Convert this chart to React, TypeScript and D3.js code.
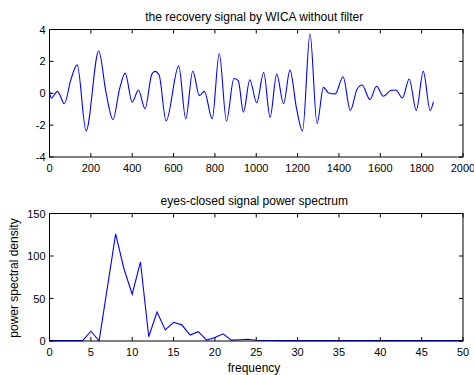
import { useRef, useEffect } from "react";
import * as d3 from "d3";

// top panel: recovered signal, key samples
const signalT = [
  0, 8, 39, 72, 102, 134, 177, 238, 274, 307, 339, 366, 400, 430, 462, 495, 511,
  530, 564, 625, 659, 693, 725, 749, 787, 821, 856, 892, 913, 938, 969, 1002,
  1036, 1067, 1099, 1132, 1163, 1195, 1224, 1260, 1294, 1325, 1350, 1382, 1420,
  1455, 1488, 1512, 1550, 1582, 1615, 1650, 1675, 1707, 1740, 1774, 1808, 1841,
  1857,
];
const signalV = [
  0.2, -0.3, 0.12, -0.66, 0.79, 1.78, -2.36, 2.65, 0.0, -1.64, 0.27, 1.26, -0.56,
  0.2, -0.97, 1.2, 1.37, 1.15, -1.74, 1.72, -1.6, 1.4, -0.15, 0.12, -1.6, 2.49,
  -1.74, 0.93, 0.79, -1.18, 0.85, -0.6, 1.3, -1.5, 1.2, -0.66, 1.45, -0.97,
  -2.36, 3.73, -1.9, 0.37, 0.02, -0.04, 1.04, -1.08, 0.27, 0.52, -0.39, 0.44,
  -0.19, 0.17, 0.2, -0.29, 0.89, -1.08, 1.37, -1.08, -0.52,
];

// bottom panel: power spectrum, one value per Hz (0..50)
const psd = [
  0.5, 0.5, 0.5, 0.5, 0.5, 11.5, 0.3, 63, 126, 85, 55, 93, 5, 34, 13, 22, 19, 7,
  11, 1, 4, 8.5, 1, 1.5, 2, 0.8, 0.6, 0.5, 0.5, 0.5, 0.5, 0.5, 0.5, 0.5, 0.5,
  0.5, 0.5, 0.5, 0.5, 0.5, 0.5, 0.5, 0.5, 0.5, 0.5, 0.5, 0.5, 0.5, 0.5, 0.5, 0.5,
];

const topXTicks = [0, 200, 400, 600, 800, 1000, 1200, 1400, 1600, 1800, 2000];
const topYTicks = [-4, -2, 0, 2, 4];
const botXTicks = [0, 5, 10, 15, 20, 25, 30, 35, 40, 45, 50];
const botYTicks = [0, 50, 100, 150];

const W = 474;
const H = 375;
const FONT = "'Liberation Sans', Arial, sans-serif";

export default function App() {
  const svgRef = useRef<SVGSVGElement>(null);

  useEffect(() => {
    if (!svgRef.current) return;
    const svg = d3.select(svgRef.current);
    svg.selectAll("*").remove();

    const left = 49.5;
    const right = 463;

    function panel(
      top: number,
      bottom: number,
      xDom: [number, number],
      yDom: [number, number],
      xTicks: number[],
      yTicks: number[],
      title: string,
      pts: [number, number][],
      curve: d3.CurveFactory
    ) {
      const x = d3.scaleLinear().domain(xDom).range([left, right]);
      const y = d3.scaleLinear().domain(yDom).range([bottom, top]);
      const g = svg.append("g");

      const line = d3
        .line<[number, number]>()
        .x((d) => x(d[0]))
        .y((d) => y(d[1]))
        .curve(curve);
      g.append("path")
        .datum(pts)
        .attr("fill", "none")
        .attr("stroke", "#0000ff")
        .attr("stroke-width", 1.1)
        .attr("d", line);

      // box
      g.append("rect")
        .attr("x", left)
        .attr("y", top)
        .attr("width", right - left)
        .attr("height", bottom - top)
        .attr("fill", "none")
        .attr("stroke", "#000")
        .attr("stroke-width", 1);

      const tl = 4;
      xTicks.forEach((t) => {
        const px = x(t);
        g.append("line").attr("x1", px).attr("x2", px).attr("y1", bottom).attr("y2", bottom - tl).attr("stroke", "#000");
        g.append("line").attr("x1", px).attr("x2", px).attr("y1", top).attr("y2", top + tl).attr("stroke", "#000");
        g.append("text")
          .attr("x", px)
          .attr("y", bottom + 15)
          .attr("text-anchor", "middle")
          .attr("font-size", "11px")
          .attr("font-family", FONT)
          .text(String(t));
      });
      yTicks.forEach((t) => {
        const py = y(t);
        g.append("line").attr("x1", left).attr("x2", left + tl).attr("y1", py).attr("y2", py).attr("stroke", "#000");
        g.append("line").attr("x1", right).attr("x2", right - tl).attr("y1", py).attr("y2", py).attr("stroke", "#000");
        g.append("text")
          .attr("x", left - 4)
          .attr("y", py + 4)
          .attr("text-anchor", "end")
          .attr("font-size", "11px")
          .attr("font-family", FONT)
          .text(String(t));
      });

      g.append("text")
        .attr("x", (left + right) / 2 - 2)
        .attr("y", top - 8.5)
        .attr("text-anchor", "middle")
        .attr("font-size", "12px")
        .attr("font-family", FONT)
        .text(title);
      return g;
    }

    panel(
      29.5,
      157,
      [0, 2000],
      [-4, 4],
      topXTicks,
      topYTicks,
      "the recovery signal by WICA without filter",
      signalT.map((t, i) => [t, signalV[i]] as [number, number]),
      d3.curveMonotoneX
    );

    const g2 = panel(
      213.5,
      341,
      [0, 50],
      [0, 150],
      botXTicks,
      botYTicks,
      "eyes-closed signal power spectrum",
      psd.map((v, i) => [i, v] as [number, number]),
      d3.curveLinear
    );

    g2.append("text")
      .attr("x", 254)
      .attr("y", 372)
      .attr("text-anchor", "middle")
      .attr("font-size", "12px")
      .attr("font-family", FONT)
      .text("frequency");
    g2.append("text")
      .attr("transform", `translate(17.5,278) rotate(-90)`)
      .attr("text-anchor", "middle")
      .attr("font-size", "12px")
      .attr("font-family", FONT)
      .text("power spectral density");
  }, []);

  return (
    <svg
      ref={svgRef}
      width={W}
      height={H}
      style={{ position: "absolute", left: 0, top: 0, background: "#fff" }}
    />
  );
}
